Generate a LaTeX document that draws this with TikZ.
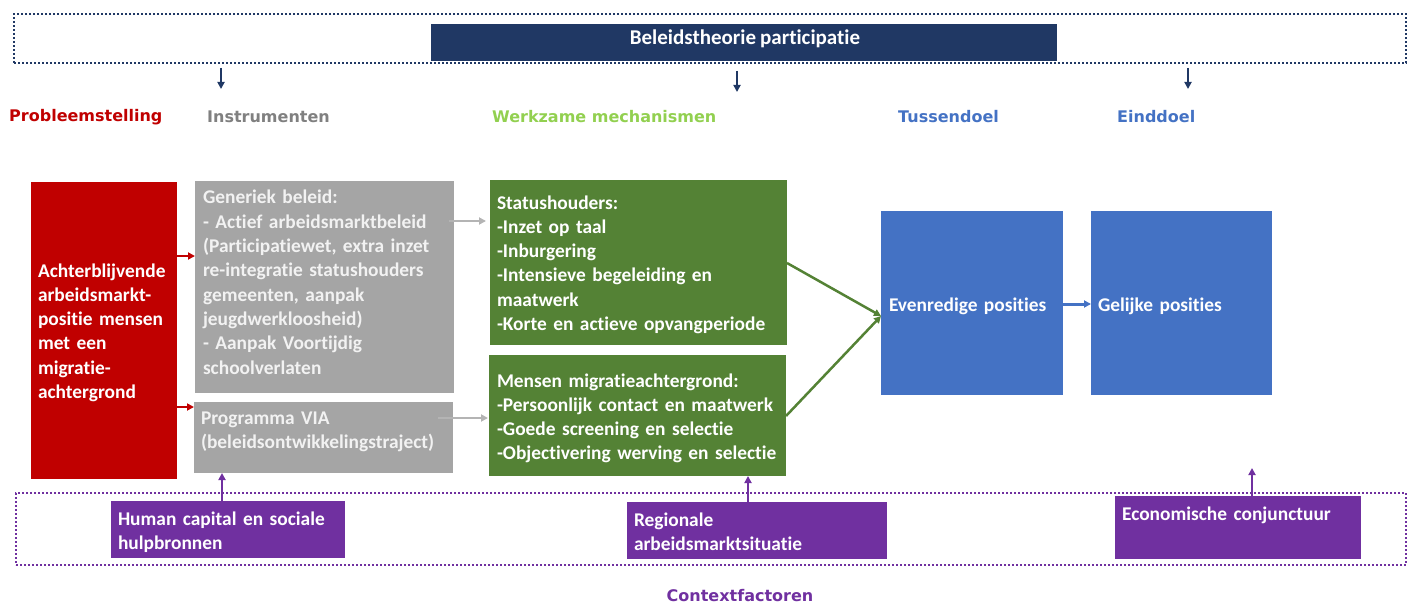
\documentclass[tikz,border=0pt]{standalone}
\usepackage{fontspec}
\setmainfont{Carlito}[Ligatures=NoCommon, WordSpace=0.85]
\newfontfamily\hdrfont{DejaVu Sans}
\usetikzlibrary{arrows.meta}
\definecolor{navy}{HTML}{203864}
\definecolor{cred}{HTML}{C00000}
\definecolor{cgray}{HTML}{A5A5A5}
\definecolor{cgreen}{HTML}{548235}
\definecolor{cblue}{HTML}{4472C4}
\definecolor{cpurple}{HTML}{7030A0}
\definecolor{lgreen}{HTML}{92D050}
\definecolor{hgray}{HTML}{808080}
\definecolor{garr}{HTML}{B4B4B4}
\begin{document}
\begin{tikzpicture}[x=1pt,y=-1pt,
  box/.style={draw=none, inner sep=0pt, outer sep=0pt, anchor=north west},
  txt/.style={inner sep=0pt, outer sep=0pt, anchor=base west, align=left, text=white,
    font=\fontsize{19.4}{24.3}\selectfont\bfseries},
  hdr/.style={inner sep=0pt, font=\hdrfont\fontsize{16}{18}\selectfont\bfseries},
  frame/.style={draw, line width=2pt, dash pattern=on 2pt off 2pt, inner sep=0pt, anchor=north west},
  arr/.style={line width=#1, -{Triangle[length=7pt,width=7pt]}},
  arr/.default=2pt]
\useasboundingbox (0,0) rectangle (1412,604);
% top frame
\node[frame, draw=navy, minimum width=1392pt, minimum height=49pt] (topframe) at (13,13) {};
\node[box, fill=navy, minimum width=626pt, minimum height=37pt] (bar) at (431,24) {};
\node[txt, anchor=center, font=\fontsize{21}{24}\selectfont\bfseries] (bartxt) at (745,39) {Beleidstheorie participatie};
% down arrows
\coordinate (d1) at (221,89);
\coordinate (d2) at (737,92);
\coordinate (d3) at (1188,89);
\draw[arr, navy] (topframe.south -| d1) ++(0,4) -- (d1);
\draw[arr, navy] (topframe.south -| d2) ++(0,7) -- (d2);
\draw[arr, navy] (topframe.south -| d3) ++(0,4) -- (d3);
% headers
\node[hdr, text=cred, anchor=west] (h1) at (9,117) {Probleemstelling};
\node[hdr, text=hgray, anchor=west] (h2) at (207,117) {Instrumenten};
\node[hdr, text=lgreen, anchor=west] (h3) at (492,117) {Werkzame mechanismen};
\node[hdr, text=cblue, anchor=west] (h4) at (898,117) {Tussendoel};
\node[hdr, text=cblue, anchor=west] (h5) at (1117,117) {Einddoel};
% red box
\node[box, fill=cred, minimum width=146pt, minimum height=297pt] (red) at (31,182) {};
\node[txt, text width=140pt] (redtxt) at (38,277) {Achterblijvende\\arbeidsmarkt-\\positie mensen\\met een\\migratie-\\achtergrond};
% gray boxes
\node[box, fill=cgray, minimum width=259pt, minimum height=212pt] (g1) at (195,181) {};
\node[txt, text width=250pt, text=white!95!black] (g1txt) at (203,204) {Generiek beleid:\\- Actief arbeidsmarktbeleid\\(Participatiewet, extra inzet\\re-integratie statushouders\\gemeenten, aanpak\\jeugdwerkloosheid)\\- Aanpak Voortijdig\\schoolverlaten};
\node[box, fill=cgray, minimum width=259pt, minimum height=71pt] (g2) at (194,402) {};
\node[txt, text width=250pt, text=white!95!black] (g2txt) at (201,424) {Programma VIA\\(beleidsontwikkelingstraject)};
% green boxes
\node[box, fill=cgreen, minimum width=297pt, minimum height=165pt] (gr1) at (490,180) {};
\node[txt, text width=290pt] (gr1txt) at (497,209) {Statushouders:\\-Inzet op taal\\-Inburgering\\-Intensieve begeleiding en\\maatwerk\\-Korte en actieve opvangperiode};
\node[box, fill=cgreen, minimum width=297pt, minimum height=121pt] (gr2) at (489,355) {};
\node[txt, text width=290pt] (gr2txt) at (497,387) {Mensen migratieachtergrond:\\-Persoonlijk contact en maatwerk\\-Goede screening en selectie\\-Objectivering werving en selectie};
% blue boxes
\node[box, fill=cblue, minimum width=182pt, minimum height=184pt] (b1) at (881,211) {};
\node[txt, text width=175pt] (b1txt) at (889,311) {Evenredige posities};
\node[box, fill=cblue, minimum width=181pt, minimum height=184pt] (b2) at (1091,211) {};
\node[txt, text width=175pt] (b2txt) at (1098,311) {Gelijke posities};
% bottom frame
\node[frame, draw=cpurple, minimum width=1390pt, minimum height=72pt] (botframe) at (15,492) {};
\node[box, fill=cpurple, minimum width=234pt, minimum height=57pt] (p1) at (111,501) {};
\node[txt, text width=228pt] (p1txt) at (118,525) {Human capital en sociale\\hulpbronnen};
\node[box, fill=cpurple, minimum width=260pt, minimum height=57pt] (p2) at (627,502) {};
\node[txt, text width=250pt] (p2txt) at (634,526) {Regionale\\arbeidsmarktsituatie};
\node[box, fill=cpurple, minimum width=246pt, minimum height=63pt] (p3) at (1115,496) {};
\node[txt, text width=240pt] (p3txt) at (1122,520) {Economische conjunctuur};
\node[hdr, text=cpurple] (ctx) at (740,596) {Contextfactoren};
% connectors
\draw[arr, cred] (red.east |- 0,256) -- (g1.west |- 0,256);
\draw[arr, cred] (red.east |- 0,407) -- (g2.west |- 0,407);
\draw[arr, garr] ([xshift=-5pt]g1.east |- 0,221) -- ([xshift=-4pt]gr1.west |- 0,221);
\draw[arr, garr] ([xshift=-15pt]g2.east |- 0,418) -- ([xshift=-1pt]gr2.west |- 0,418);
\coordinate (meet) at (881,316);
\draw[arr=2.5pt, cgreen] (gr1.east |- 0,263) -- (meet);
\draw[arr=2.5pt, cgreen] (gr2.east |- 0,416) -- (meet);
\draw[arr=3pt, cblue] (b1.east |- 0,304) -- (b2.west |- 0,304);
\draw[arr, cpurple] (p1.north -| 222,0) -- (g2.south -| 222,0);
\draw[arr, cpurple] (p2.north -| 748,0) -- (gr2.south -| 748,0);
\coordinate (econ) at (1252,468);
\draw[arr, cpurple] (p3.north -| econ) -- (econ);
\end{tikzpicture}
\end{document}
